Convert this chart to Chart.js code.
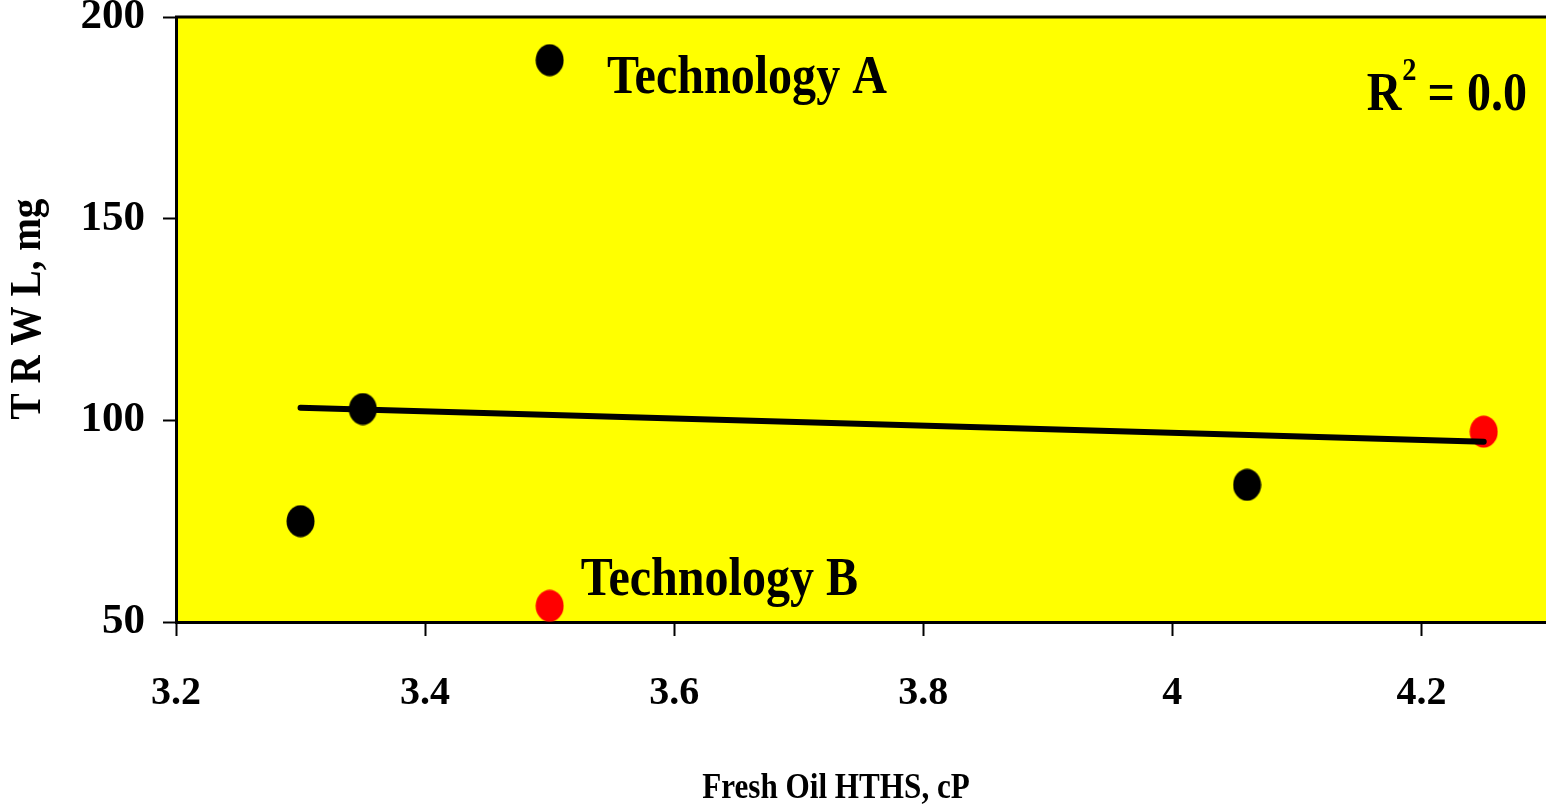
<!DOCTYPE html>
<html>
<head>
<meta charset="utf-8">
<script src="https://cdn.jsdelivr.net/npm/chart.js@4.4.1/dist/chart.umd.min.js"></script>
<style>
  html, body { margin: 0; padding: 0; background: #fff; }
  #wrap { width: 1546px; height: 807px; }
</style>
</head>
<body>
<div id="wrap"><canvas id="c" width="1546" height="807"></canvas></div>
<script>
// ---- data ----
const blackX = [3.3, 3.35, 3.5, 4.06];
const blackY = [75, 102.8, 189.3, 84];
const redX = [3.5, 4.25];
const redY = [54, 97.2];
const trendX = [3.3, 4.25];
const trendY = [103.1, 94.7];
const xTicks = [3.2, 3.4, 3.6, 3.8, 4, 4.2];
const yTicks = [50, 100, 150, 200];
const xTitle = 'Fresh Oil HTHS, cP';
const yTitle = 'T R W L, mg';
const labelA = 'Technology A';
const labelB = 'Technology B';
const r2Text = ['R', '2', ' = 0.0'];

const FONT = '"Liberation Serif", "Times New Roman", serif';
const SQ = 0.89; // horizontal condensing of the original serif text

function ellipseMarker(color) {
  const w = 29, h = 33;
  const cv = document.createElement('canvas');
  cv.width = w; cv.height = h;
  const g = cv.getContext('2d');
  g.fillStyle = color;
  g.beginPath();
  g.ellipse(w / 2, h / 2, w / 2 - 0.5, h / 2 - 0.5, 0, 0, Math.PI * 2);
  g.fill();
  return cv;
}

const pts = (xs, ys) => xs.map((x, i) => ({ x: x, y: ys[i] }));

function condensedText(ctx, text, x, y, align) {
  ctx.save();
  ctx.translate(x, y);
  ctx.scale(SQ, 1);
  ctx.textAlign = align || 'left';
  ctx.fillText(text, 0, 0);
  ctx.restore();
  return ctx.measureText(text).width * SQ;
}

const annotations = {
  id: 'annotations',
  beforeDraw(chart) {
    const { ctx, chartArea: a } = chart;
    ctx.save();
    ctx.fillStyle = '#FFFF00';
    ctx.fillRect(a.left, a.top, a.right - a.left, a.bottom - a.top);
    ctx.restore();
  },
  afterDraw(chart) {
    const { ctx, chartArea: a, scales } = chart;
    const sx = scales.x, sy = scales.y;
    ctx.save();
    // top border
    ctx.strokeStyle = '#000';
    ctx.lineWidth = 3;
    ctx.beginPath();
    ctx.moveTo(a.left - 1, a.top);
    ctx.lineTo(a.right, a.top);
    ctx.stroke();
    ctx.fillStyle = '#000';
    ctx.textBaseline = 'alphabetic';
    // axis titles
    ctx.font = 'bold 35px ' + FONT;
    condensedText(ctx, xTitle, 836, 798, 'center');
    ctx.save();
    ctx.translate(40, 309);
    ctx.rotate(-Math.PI / 2);
    ctx.font = 'bold 44px ' + FONT;
    condensedText(ctx, yTitle, 0, 0, 'center');
    ctx.restore();
    // labels
    ctx.font = 'bold 54px ' + FONT;
    condensedText(ctx, labelA, sx.getPixelForValue(3.546), sy.getPixelForValue(181.2));
    condensedText(ctx, labelB, sx.getPixelForValue(3.525), sy.getPixelForValue(56.6));
    // R^2
    let x = sx.getPixelForValue(4.156);
    const yb = sy.getPixelForValue(176.9);
    ctx.font = 'bold 54px ' + FONT;
    x += condensedText(ctx, r2Text[0], x, yb);
    ctx.font = 'bold 32px ' + FONT;
    x += condensedText(ctx, r2Text[1], x + 1, yb - 30);
    ctx.font = 'bold 54px ' + FONT;
    condensedText(ctx, r2Text[2], x, yb);
    ctx.restore();
  }
};

new Chart(document.getElementById('c'), {
  type: 'scatter',
  data: {
    datasets: [
      {
        label: 'trend',
        type: 'line',
        data: pts(trendX, trendY),
        borderColor: '#000',
        borderWidth: 6,
        borderCapStyle: 'round',
        pointRadius: 0,
        fill: false,
        order: 0
      },
      {
        label: 'other',
        data: pts(blackX, blackY),
        pointStyle: ellipseMarker('#000'),
        order: 1
      },
      {
        label: 'red',
        data: pts(redX, redY),
        pointStyle: ellipseMarker('#FF0000'),
        order: 1
      }
    ]
  },
  options: {
    responsive: false,
    animation: false,
    devicePixelRatio: 1,
    clip: false,
    layout: { autoPadding: false, padding: { top: 17, right: 0, bottom: 0, left: 0 } },
    plugins: { legend: { display: false }, tooltip: { enabled: false } },
    scales: {
      x: {
        type: 'linear',
        min: 3.2,
        max: 4.3,
        afterBuildTicks(s) { s.ticks = xTicks.map(v => ({ value: v })); },
        afterFit(s) { s.height = 185; s.paddingLeft = 0; s.paddingRight = 0; s.paddingTop = 0; s.paddingBottom = 0; },
        grid: { drawOnChartArea: false, drawTicks: true, tickLength: 14, tickWidth: 2, tickColor: '#000' },
        border: { display: true, color: '#000', width: 3 },
        ticks: {
          color: '#000',
          padding: 34,
          maxRotation: 0,
          autoSkip: false,
          font: { family: FONT, size: 40, weight: 'bold' },
          callback: (v) => String(v)
        },
        title: { display: false, text: xTitle }
      },
      y: {
        type: 'linear',
        min: 50,
        max: 200,
        afterBuildTicks(s) { s.ticks = yTicks.map(v => ({ value: v })); },
        afterFit(s) { s.width = 176; s.paddingTop = 0; s.paddingBottom = 0; s.paddingLeft = 0; s.paddingRight = 0; },
        grid: { drawOnChartArea: false, drawTicks: true, tickLength: 13, tickWidth: 2, tickColor: '#000' },
        border: { display: true, color: '#000', width: 3 },
        ticks: {
          color: '#000',
          padding: 18,
          autoSkip: false,
          font: { family: FONT, size: 43, weight: 'bold' },
          callback: (v) => String(v)
        },
        title: { display: false, text: yTitle }
      }
    }
  },
  plugins: [annotations]
});
</script>
</body>
</html>
